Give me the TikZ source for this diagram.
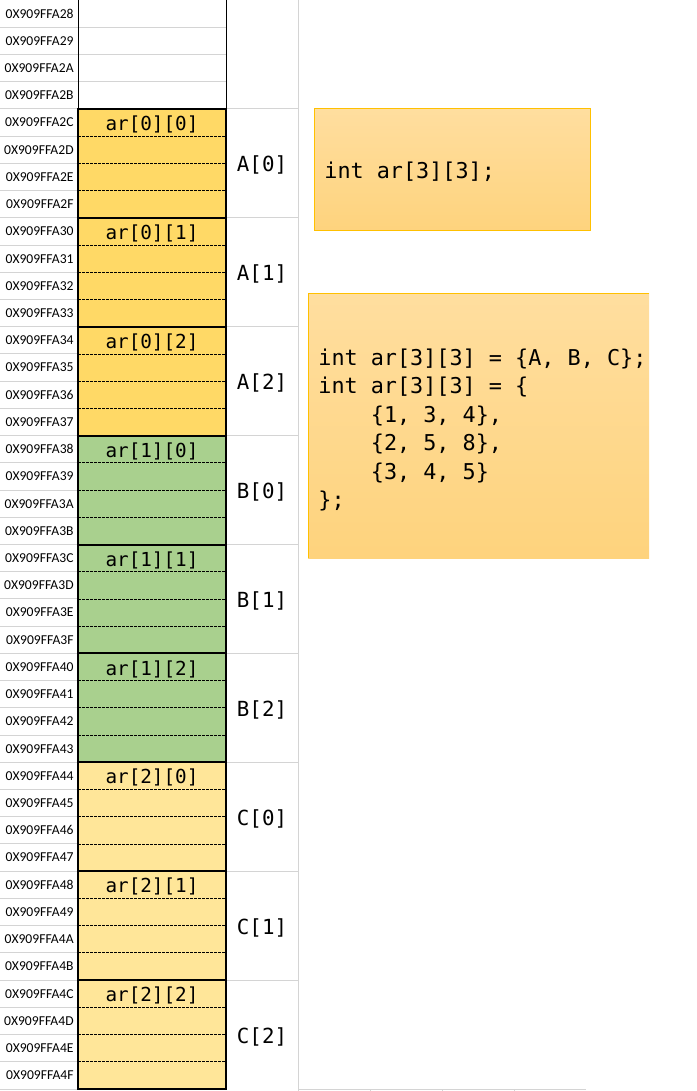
\documentclass[tikz,border=0pt]{standalone}
\usepackage{fontspec}
\newfontfamily\codefont{DejaVu Sans Mono}
\newfontfamily\addrfont{Carlito}
\definecolor{gridgray}{RGB}{212,212,212}
\definecolor{cellgold}{RGB}{255,217,102}
\definecolor{cellgreen}{RGB}{169,208,142}
\definecolor{cellcream}{RGB}{255,230,153}
\definecolor{boxtop}{RGB}{255,222,159}
\definecolor{boxbot}{RGB}{254,211,125}
\definecolor{boxedge}{RGB}{255,192,0}
\begin{document}
\begin{tikzpicture}[x=1pt,y=-1pt,line width=.75pt,
  addr/.style={font=\addrfont\fontsize{13.6}{15}\selectfont,anchor=east,inner sep=0pt},
  elem/.style={font=\codefont\fontsize{19.3}{22}\selectfont,inner sep=0pt},
  sub/.style={font=\codefont\fontsize{20.8}{24}\selectfont,inner sep=0pt},
  codetext/.style={font=\codefont\fontsize{21.8}{28.4}\selectfont,inner sep=0pt,align=left},
  gridline/.style={draw=gridgray,line width=1pt},
  slot/.style={dash pattern=on 2.5pt off 1.5pt,line width=.8pt}]
  \path[use as bounding box] (0,0) rectangle (696,1091);
  \def\rh{27.225}
  % fills of the nine elements
  \foreach \r/\lt/\col in {0/A/cellgold,1/B/cellgreen,2/C/cellcream}
    \foreach \c in {0,1,2}{
      \pgfmathsetmacro\top{(4+4*(3*\r+\c))*\rh}
      \fill[\col] (78,\top) rectangle (226,\top+4*\rh);
    }
  % sheet grid
  \foreach \i in {1,...,40} \draw[gridline] (0,\i*\rh) -- (78,\i*\rh);
  \foreach \i in {1,2,3} \draw[gridline] (78,\i*\rh) -- (226,\i*\rh);
  \foreach \k in {1,...,9} \draw[gridline] (226,4*\k*\rh) -- (298,4*\k*\rh);
  \draw[gridline] (298,40*\rh) -- (586,40*\rh);
  \foreach \x in {370,442,514} \draw[gridline] (\x,40*\rh) -- (\x,1091);
  \draw[gridline] (298,0) -- (298,1091);
  \draw (78,0) -- (78,4*\rh) (226,0) -- (226,4*\rh);
  % elements
  \foreach \r/\lt/\col in {0/A/cellgold,1/B/cellgreen,2/C/cellcream}
    \foreach \c in {0,1,2}{
      \pgfmathsetmacro\top{(4+4*(3*\r+\c))*\rh}
      \foreach \j in {1,2,3} \draw[slot] (78,\top+\j*\rh) -- (226,\top+\j*\rh);
      \draw[line width=2pt] (78,\top) rectangle (226,\top+4*\rh);
      \node[elem] (ar\r\c) at (152,\top+.5*\rh+2) {ar[\r][\c]};
      \node[sub] (\lt\c) at (262,\top+2*\rh+2) {\lt[\c]};
    }
  % addresses
  \foreach \hx [count=\n from 0] in {28,29,2A,2B,2C,2D,2E,2F,30,31,32,33,34,35,36,37,
      38,39,3A,3B,3C,3D,3E,3F,40,41,42,43,44,45,46,47,48,49,4A,4B,4C,4D,4E,4F}
    \node[addr] (addr\hx) at (74,{(\n+.5)*\rh}) {0X909FFA\hx};
  % declaration boxes
  \shade[top color=boxtop,bottom color=boxbot] (314,109) rectangle (590,231);
  \draw[boxedge,line width=1pt] (314,109) rectangle (590,231);
  \node[codetext,anchor=west] (decl) at (324,172) {int ar[3][3];};
  \shade[top color=boxtop,bottom color=boxbot] (308,293) rectangle (649,558);
  \draw[boxedge,line width=1pt] (649,293) -- (308,293) -- (308,558);
  \node[codetext,anchor=west] (init) at (318,430) {int ar[3][3] = \{A, B, C\};\\
    int ar[3][3] = \{\\
    \phantom{xxxx}\{1, 3, 4\},\\
    \phantom{xxxx}\{2, 5, 8\},\\
    \phantom{xxxx}\{3, 4, 5\}\\
    \};};
\end{tikzpicture}
\end{document}
